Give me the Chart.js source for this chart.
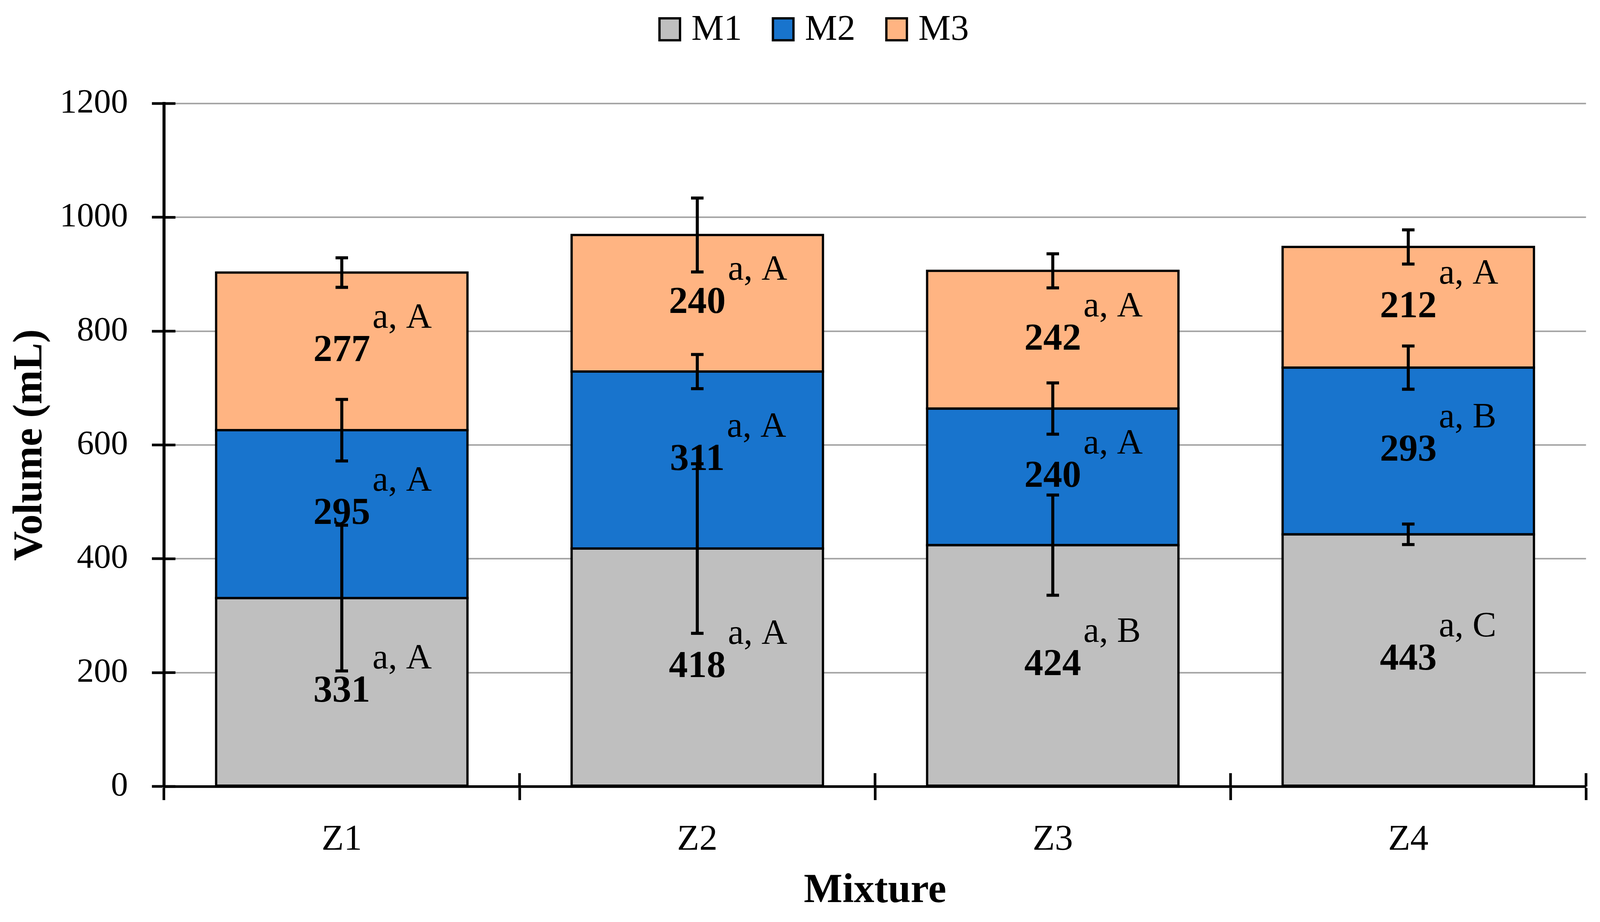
<!DOCTYPE html>
<html><head><meta charset="utf-8">
<script src="https://cdn.jsdelivr.net/npm/chart.js@4/dist/chart.umd.min.js"></script>
<style>html,body{margin:0;padding:0;background:#fff;overflow:hidden}#wrap{width:100vw;height:100vh;position:relative}</style>
</head><body><div id="wrap"><canvas id="c"></canvas></div>
<script>
// ---- data ----
const categories = ['Z1', 'Z2', 'Z3', 'Z4'];
const seriesNames = ['M1', 'M2', 'M3'];
const m1Values = [331, 418, 424, 443];
const m2Values = [295, 311, 240, 293];
const m3Values = [277, 240, 242, 212];
const m1Errors = [128, 149, 88, 18];
const m2Errors = [54, 30, 45, 38];
const m3Errors = [26, 65, 30, 30];
const m1Letters = ['a, A', 'a, A', 'a, B', 'a, C'];
const m2Letters = ['a, A', 'a, A', 'a, A', 'a, B'];
const m3Letters = ['a, A', 'a, A', 'a, A', 'a, A'];
const yMin = 0, yMax = 1200, yStep = 200;
const xTitle = 'Mixture';
const yTitle = 'Volume (mL)';

// ---- style (sizes in reference pixels, scaled to the viewport) ----
const SX = window.innerWidth / 4350;
const SY = window.innerHeight / 2360;
const SF = Math.sqrt(SX * SY);
const px = v => v * SX;   // horizontal
const py = v => v * SY;   // vertical
const pf = v => v * SF;   // fonts / line widths
const FONT = "'Liberation Serif', 'Times New Roman', serif";
const seriesColors = ['#BFBFBF', '#1874CD', '#FFB482'];
const seriesValues = [m1Values, m2Values, m3Values];
const seriesErrors = [m1Errors, m2Errors, m3Errors];
const seriesLetters = [m1Letters, m2Letters, m3Letters];

const datasets = seriesNames.map((name, i) => ({
  label: name,
  data: seriesValues[i],
  backgroundColor: seriesColors[i],
  borderWidth: 0,
  stack: 's',
  barPercentage: 0.707,
  categoryPercentage: 1.0
}));

const innerTicks = {
  id: 'innerTicks',
  afterDraw(chart) {
    const ctx = chart.ctx, a = chart.chartArea;
    const ys = chart.scales.y;
    ctx.save();
    ctx.strokeStyle = '#000';
    ctx.lineWidth = pf(7);
    ys.ticks.forEach(t => {
      const y = ys.getPixelForValue(t.value);
      ctx.beginPath(); ctx.moveTo(a.left, y); ctx.lineTo(a.left + px(31), y); ctx.stroke();
    });
    const n = categories.length;
    for (let i = 1; i <= n; i++) {
      const x = a.left + i * (a.right - a.left) / n;
      ctx.beginPath(); ctx.moveTo(x, a.bottom); ctx.lineTo(x, a.bottom - py(34)); ctx.stroke();
    }
    ctx.restore();
  }
};

const errorsAndLabels = {
  id: 'errorsAndLabels',
  afterDatasetsDraw(chart) {
    const ctx = chart.ctx, ys = chart.scales.y;
    ctx.save();
    // bar outlines, stroked on the segment edges
    ctx.strokeStyle = '#000';
    ctx.lineWidth = pf(6);
    seriesNames.forEach((name, i) => {
      chart.getDatasetMeta(i).data.forEach(el => {
        ctx.strokeRect(el.x - el.width / 2, el.y, el.width, el.base - el.y);
      });
    });
    // error bars
    ctx.lineWidth = pf(8);
    const cum = categories.map(() => 0);
    seriesNames.forEach((name, i) => {
      const meta = chart.getDatasetMeta(i);
      seriesValues[i].forEach((v, j) => {
        cum[j] += v;
        const x = meta.data[j].x;
        const yt = ys.getPixelForValue(cum[j] + seriesErrors[i][j]);
        const yb = ys.getPixelForValue(cum[j] - seriesErrors[i][j]);
        const c = px(17);
        ctx.beginPath();
        ctx.moveTo(x, yt); ctx.lineTo(x, yb);
        ctx.moveTo(x - c, yt); ctx.lineTo(x + c, yt);
        ctx.moveTo(x - c, yb); ctx.lineTo(x + c, yb);
        ctx.stroke();
      });
    });
    // value labels and letters
    ctx.fillStyle = '#000';
    seriesNames.forEach((name, i) => {
      const meta = chart.getDatasetMeta(i);
      seriesValues[i].forEach((v, j) => {
        const el = meta.data[j];
        const cx = el.x, cy = (el.y + el.base) / 2;
        ctx.font = 'bold ' + pf(100) + 'px ' + FONT;
        ctx.textAlign = 'center';
        ctx.textBaseline = 'middle';
        const txt = String(v);
        ctx.fillText(txt, cx, cy);
        const w = ctx.measureText(txt).width;
        ctx.font = pf(94) + 'px ' + FONT;
        ctx.textAlign = 'left';
        ctx.textBaseline = 'alphabetic';
        ctx.fillText(seriesLetters[i][j], cx + w / 2 + px(6), cy - py(60));
      });
    });
    ctx.restore();
  }
};

const topLegend = {
  id: 'topLegend',
  afterDraw(chart) {
    const ctx = chart.ctx;
    ctx.save();
    ctx.font = pf(96) + 'px ' + FONT;
    const bw = px(62), bh = py(62), gapText = px(28), gapItem = px(81);
    const widths = seriesNames.map(n => ctx.measureText(n).width);
    const total = widths.reduce((s, w) => s + bw + gapText + w, 0) + gapItem * (seriesNames.length - 1);
    let x = px(2212) - total / 2;
    const cy = py(75);
    const lw = pf(6);
    seriesNames.forEach((n, i) => {
      ctx.fillStyle = seriesColors[i];
      ctx.fillRect(x, cy - bh / 2, bw, bh);
      ctx.strokeStyle = '#000';
      ctx.lineWidth = lw;
      ctx.strokeRect(x + lw / 2, cy - bh / 2 + lw / 2, bw - lw, bh - lw);
      ctx.fillStyle = '#000';
      ctx.textAlign = 'left';
      ctx.textBaseline = 'middle';
      ctx.fillText(n, x + bw + gapText, cy + py(3));
      x += bw + gapText + widths[i] + gapItem;
    });
    ctx.restore();
  }
};

new Chart(document.getElementById('c'), {
  type: 'bar',
  data: { labels: categories, datasets },
  plugins: [innerTicks, errorsAndLabels, topLegend],
  options: {
    responsive: true,
    maintainAspectRatio: false,
    animation: false,
    layout: { padding: { left: 0, top: py(265), right: px(38), bottom: 0 } },
    plugins: { legend: { display: false }, tooltip: { enabled: false } },
    scales: {
      x: {
        stacked: true,
        afterFit(s) { s.height = py(347); },
        grid: { display: true, drawOnChartArea: false, drawTicks: true, tickLength: py(35), tickColor: '#000', tickWidth: pf(7), offset: true },
        border: { display: true, color: '#000', width: pf(7) },
        ticks: { color: '#000', font: { family: FONT, size: pf(96), lineHeight: 1 }, padding: py(56) },
        title: { display: true, text: xTitle, color: '#000', font: { family: FONT, size: pf(108), weight: 'bold', lineHeight: 1 }, padding: { top: 0, bottom: py(26) } }
      },
      y: {
        stacked: true,
        min: yMin, max: yMax,
        afterFit(s) { s.width = px(446); },
        grid: { color: '#A6A6A6', lineWidth: pf(4), drawTicks: true, tickLength: px(33), tickColor: '#000', tickWidth: pf(7) },
        border: { display: true, color: '#000', width: pf(8) },
        ticks: { stepSize: yStep, color: '#000', callback: v => String(v), font: { family: FONT, size: pf(90), lineHeight: 1 }, padding: px(65) },
        title: { display: true, text: yTitle, color: '#000', font: { family: FONT, size: pf(108), weight: 'bold', lineHeight: 1 }, padding: { top: px(28), bottom: 0 } }
      }
    }
  }
});
</script></body></html>
